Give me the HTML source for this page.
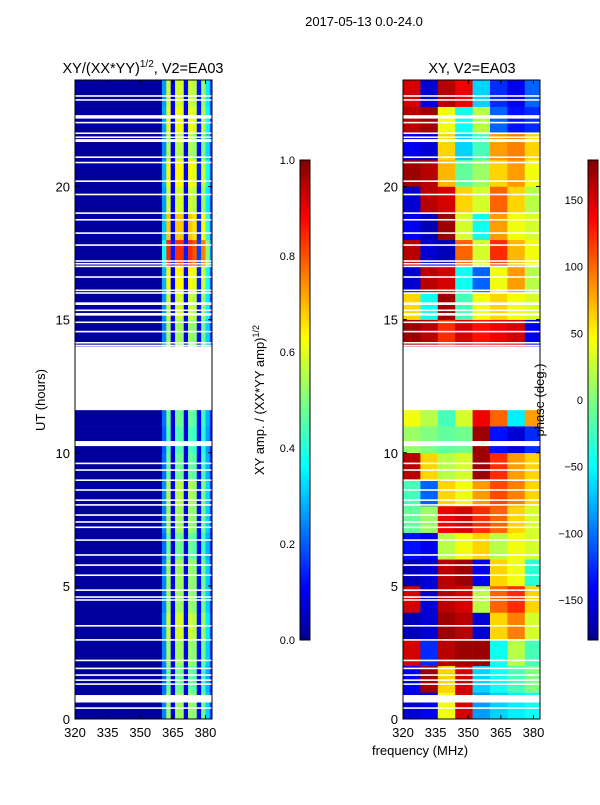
<!DOCTYPE html>
<html><head><meta charset="utf-8"><style>
body{margin:0;background:#fff;font-family:"Liberation Sans",sans-serif}
svg text{font-family:"Liberation Sans",sans-serif;fill:#000}
</style></head><body>
<svg id="fig" width="600" height="800" xmlns="http://www.w3.org/2000/svg">
<defs><linearGradient id="jet" x1="0" y1="1" x2="0" y2="0">
<stop offset="0" stop-color="#00008f"/><stop offset="0.11" stop-color="#0000ff"/><stop offset="0.36" stop-color="#00ffff"/><stop offset="0.5" stop-color="#7fff7f"/><stop offset="0.63" stop-color="#ffff00"/><stop offset="0.88" stop-color="#ff0000"/><stop offset="1" stop-color="#800000"/></linearGradient></defs>
<text x="364" y="26" font-size="13" text-anchor="middle">2017-05-13 0.0-24.0</text>
<text x="143" y="73" font-size="14.5" text-anchor="middle">XY/(XX*YY)<tspan font-size="10" dy="-6">1/2</tspan><tspan dy="6">, V2=EA03</tspan></text>
<text x="472" y="73" font-size="14.5" text-anchor="middle">XY, V2=EA03</text>
<g id="left"></g>
<g id="right"></g>
<g id="axes"></g>
<text transform="translate(45,400) rotate(-90)" font-size="13" text-anchor="middle">UT (hours)</text>
<text x="420" y="755" font-size="13" text-anchor="middle">frequency (MHz)</text>
<rect x="300" y="160" width="10" height="480" fill="url(#jet)" stroke="#000" stroke-width="1"/>
<rect x="588" y="160" width="10" height="480" fill="url(#jet)" stroke="#000" stroke-width="1"/>
<text transform="translate(264,400) rotate(-90)" font-size="13" text-anchor="middle">XY amp. / (XX*YY amp)<tspan font-size="9" dy="-5">1/2</tspan></text>
<text transform="translate(544,400) rotate(-90)" font-size="13" text-anchor="middle">phase (deg.)</text>
</svg>
<script>
const hourTicks=[0,5,10,15,20];
const freqTicks=[320,335,350,365,380];
const ampTicks=[0.0,0.2,0.4,0.6,0.8,1.0];
const phaseTicks=[-150,-100,-50,0,50,100,150];
// amplitude: per-hour level and frequency-bin factor (bins from 360 MHz, 2 MHz wide)
const ampBaseline=0.03;
const ampLevel=[0.5,0.45,0.5,0.55,0.5,0.5,0.45,0.5,0.52,0.45,0.42,0.45,0,0,0.5,0.55,0.6,0.8,0.65,0.55,0.6,0.52,0.58,0.55];
const ampFreqFactor=[0.45,1.0,0.15,1.0,1.0,0.15,1.0,0.95,0.2,0.9,0.6,0.3];
// phase grid: 24 hours x 8 freq columns (320-384, 8 MHz each)
const phaseGrid=[
[-150,-140,40,150,-80,-60,-50,-40],
[-140,170,60,150,-60,-40,-20,0],
[150,-120,160,170,170,-40,20,-20],
[-160,-150,170,160,-150,60,90,30],
[150,-150,160,150,20,100,120,60],
[-160,-150,160,170,-140,60,40,-30],
[-130,-140,20,40,60,20,40,30],
[-10,10,140,150,120,100,60,30],
[-20,-100,60,40,80,110,90,60],
[160,60,20,30,170,120,80,60],
[10,0,-10,-5,170,-130,-150,-120],
[40,20,-20,30,140,100,-50,80],
[0,0,0,0,0,0,0,0],
[0,0,0,0,0,0,0,0],
[170,160,120,150,130,140,150,-140],
[60,-40,170,-20,40,60,40,30],
[-150,160,150,-40,-100,40,80,20],
[160,-150,-160,100,30,120,70,40],
[-140,-160,170,30,-40,80,40,30],
[-150,160,150,60,30,100,60,20],
[170,160,70,-10,10,60,80,40],
[-140,-150,60,-60,-20,80,90,60],
[160,170,40,-40,20,-100,-130,-120],
[150,-150,160,140,-60,-120,-140,-100]];
const flagged=[[0.38,0.44],[0.62,0.9],[1.28,1.34],[1.43,1.49],[1.62,1.68],[1.87,1.93],[2.17,2.23],[2.94,3.0],[3.47,3.53],[4.44,4.5],[4.55,4.61],[4.81,4.87],[5.37,5.43],[5.75,5.81],[6.13,6.19],[6.69,6.75],[7.17,7.23],[7.37,7.43],[7.63,7.69],[8.01,8.07],[8.19,8.25],[8.57,8.63],[8.94,9.0],[9.32,9.38],[9.57,9.63],[10.25,10.44],[11.6,13.85],[14.0,14.06],[14.1,14.16],[14.52,14.58],[14.87,14.93],[15.15,15.25],[15.32,15.38],[15.55,15.65],[15.97,16.03],[16.07,16.13],[16.57,16.63],[16.97,17.03],[17.07,17.13],[17.17,17.23],[17.77,17.83],[18.22,18.28],[18.72,18.78],[18.97,19.03],[19.67,19.73],[20.17,20.23],[20.87,20.93],[21.07,21.13],[21.67,21.73],[21.72,21.78],[21.82,21.88],[21.97,22.03],[22.37,22.43],[22.55,22.68],[23.22,23.28],[23.37,23.43]];
const NS='http://www.w3.org/2000/svg';
const L={x0:75,x1:212},R={x0:403,x1:540},Y0=719,Y1=80,F0=320,F1=383;
function yS(h){return Y0-(h/24)*(Y0-Y1);}
function xS(p,f){return p.x0+(f-F0)/(F1-F0)*(p.x1-p.x0);}
function jet(v){v=Math.max(0,Math.min(1,v));const c=t=>Math.round(255*Math.max(0,Math.min(1,1.5-Math.abs(4*v-t))));return `rgb(${c(3)},${c(2)},${c(1)})`;}
function rect(g,x,y,w,h,fill){const r=document.createElementNS(NS,'rect');r.setAttribute('x',x);r.setAttribute('y',y);r.setAttribute('width',w);r.setAttribute('height',h);r.setAttribute('fill',fill);


g.appendChild(r);return r;}
function line(g,x1,y1,x2,y2,name){const l=document.createElementNS(NS,'line');l.setAttribute('x1',x1);l.setAttribute('y1',y1);l.setAttribute('x2',x2);l.setAttribute('y2',y2);l.setAttribute('stroke','#000');


g.appendChild(l);}
function text(g,x,y,s,anchor,name){const t=document.createElementNS(NS,'text');t.setAttribute('x',x);t.setAttribute('y',y);t.setAttribute('font-size','13');t.setAttribute('text-anchor',anchor);t.textContent=s;


g.appendChild(t);}
const gl=document.getElementById('left'),gr=document.getElementById('right'),ga=document.getElementById('axes');
for(let h=0;h<24;h++){
 if(ampLevel[h]===0)continue;
 const ya=yS(h+1),yb=yS(h);
 rect(gl,L.x0,ya,xS(L,360)-L.x0,yb-ya+0.3,jet(ampBaseline));
 ampFreqFactor.forEach((f,i)=>{const fa=360+2*i,fb=Math.min(F1,fa+2);const xa=xS(L,fa),xb=xS(L,fb);
  rect(gl,xa,ya,xb-xa+0.3,yb-ya+0.3,jet(ampBaseline+ampLevel[h]*f));});
}
phaseGrid.forEach((row,h)=>{if(h===12||h===13)return;const ya=yS(h+1),yb=yS(h);
 row.forEach((p,i)=>{const fa=F0+8*i,fb=Math.min(F1,fa+8);const xa=xS(R,fa),xb=xS(R,fb);
  rect(gr,xa,ya,xb-xa+0.3,yb-ya+0.3,jet((p+180)/360));});});
[[gl,L],[gr,R]].forEach(([g,p])=>flagged.forEach(([a,b])=>{const r=rect(g,p.x0,yS(b),p.x1-p.x0,Math.max(1.2,yS(a)-yS(b)),'#fff');}));
[L,R].forEach((p,k)=>{
 const fr=document.createElementNS(NS,'rect');fr.setAttribute('x',p.x0);fr.setAttribute('y',Y1);fr.setAttribute('width',p.x1-p.x0);fr.setAttribute('height',Y0-Y1);fr.setAttribute('fill','none');fr.setAttribute('stroke','#000');
 
 
 ga.appendChild(fr);
 hourTicks.forEach(h=>{const y=yS(h);line(ga,p.x0,y,p.x0+4,y,'y-tick');line(ga,p.x1,y,p.x1-4,y,'y-tick');text(ga,p.x0-5,y+5,String(h),'end','y-tick-label');});
 freqTicks.forEach(f=>{const x=xS(p,f);line(ga,x,Y0,x,Y0-4,'x-tick');line(ga,x,Y1,x,Y1+4,'x-tick');text(ga,x,Y0+18,String(f),'middle','x-tick-label');});
});
ampTicks.forEach(v=>{const y=640-v*480;line(ga,300,y,303,y,'colorbar-tick');line(ga,310,y,307,y,'colorbar-tick');text(ga,295,y+4,v.toFixed(1),'end','amp-colorbar-label');ga.lastChild.setAttribute('font-size','11');});
phaseTicks.forEach(v=>{const y=400-v*(480/360);line(ga,588,y,591,y,'colorbar-tick');line(ga,598,y,595,y,'colorbar-tick');text(ga,583,y+4,v<0?'\u2212'+(-v):String(v),'end','phase-colorbar-label');ga.lastChild.setAttribute('font-size','11');});
</script>
</body></html>
